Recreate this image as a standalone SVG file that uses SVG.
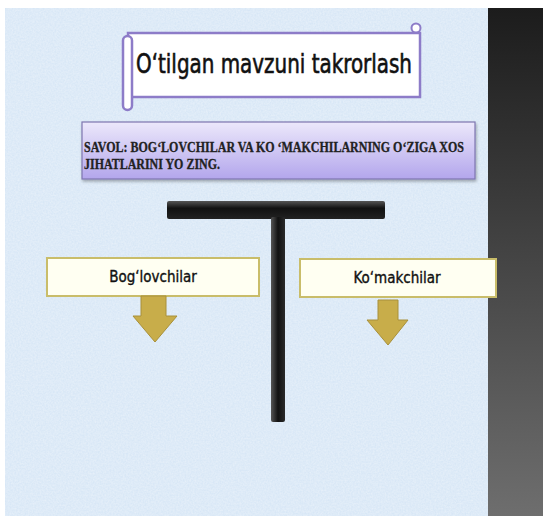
<svg xmlns="http://www.w3.org/2000/svg" width="543" height="516" viewBox="0 0 543 516">
<defs>
<linearGradient id="strip" x1="0" y1="0" x2="0" y2="1">
<stop offset="0" stop-color="#1c1c1c"/><stop offset="1" stop-color="#6e6e6e"/>
</linearGradient>
<linearGradient id="purple" x1="0" y1="0" x2="0" y2="1">
<stop offset="0" stop-color="#ece8fb"/><stop offset="1" stop-color="#b3a6ec"/>
</linearGradient>
<linearGradient id="barH" x1="0" y1="0" x2="0" y2="1">
<stop offset="0" stop-color="#555"/><stop offset="0.4" stop-color="#111"/><stop offset="1" stop-color="#222"/>
</linearGradient>
<linearGradient id="barV" x1="0" y1="0" x2="1" y2="0">
<stop offset="0" stop-color="#555"/><stop offset="0.5" stop-color="#111"/><stop offset="1" stop-color="#2a2a2a"/>
</linearGradient>
<filter id="tex" x="0" y="0" width="1" height="1">
<feTurbulence type="fractalNoise" baseFrequency="0.6" numOctaves="3" seed="3" result="n"/>
<feColorMatrix in="n" type="matrix" values="0 0 0 0 1  0 0 0 0 1  0 0 0 0 1  0 0 0 0.5 -0.1"/>
</filter>
<filter id="sh" x="-10%" y="-10%" width="120%" height="130%">
<feDropShadow dx="1" dy="2" stdDeviation="1.5" flood-color="#000" flood-opacity="0.3"/>
</filter>
</defs>
<style>
.lbl{fill:#fffff2;stroke:#c9bd6a;stroke-width:2}
.lt{font-family:"DejaVu Sans Condensed","DejaVu Sans",sans-serif;font-size:15px;fill:#111;stroke:#111;stroke-width:0.35;text-anchor:middle}
.arr{fill:#c8ad4a;stroke:#a8903a;stroke-width:1}
</style>
<rect width="543" height="516" fill="#ffffff"/>
<rect x="5" y="8" width="483" height="508" fill="#d8e7f6"/>
<rect x="5" y="8" width="483" height="508" filter="url(#tex)"/>
<rect x="488" y="8" width="55" height="508" fill="url(#strip)"/>

<g id="title">
<rect x="128" y="33" width="292" height="64" fill="#ffffff" stroke="#8d7cc8" stroke-width="2.5"/>
<rect x="123" y="36" width="9" height="74" rx="4.5" fill="#ffffff" stroke="#8d7cc8" stroke-width="2.5"/>
<circle cx="416" cy="28" r="4.5" fill="#ffffff" stroke="#8d7cc8" stroke-width="2"/>
<text x="274" y="73" font-family="'DejaVu Sans Condensed','DejaVu Sans',sans-serif" font-size="27" fill="#111" stroke="#111" stroke-width="0.6" text-anchor="middle" textLength="276" lengthAdjust="spacingAndGlyphs">O‘tilgan mavzuni takrorlash</text>
</g>

<g id="question">
<rect x="82" y="122" width="393" height="57" fill="url(#purple)" stroke="#7e76b0" stroke-width="1.2" filter="url(#sh)"/>
<text font-family="'Liberation Serif',serif" font-weight="bold" font-size="14" fill="#222" stroke="#222" stroke-width="0.3">
<tspan x="84" y="152" textLength="380" lengthAdjust="spacingAndGlyphs">SAVOL: BOG‘LOVCHILAR VA KO ‘MAKCHILARNING O‘ZIGA XOS</tspan>
<tspan x="84" y="169" textLength="136" lengthAdjust="spacingAndGlyphs">JIHATLARINI YO ZING.</tspan>
</text>
</g>

<g id="tbar">
<rect x="167" y="201" width="218" height="18" rx="2" fill="url(#barH)"/>
<rect x="271" y="217" width="14" height="205" rx="2" fill="url(#barV)"/>
</g>

<g id="left">
<rect class="lbl" x="47" y="258" width="212" height="38"/>
<text class="lt" x="153" y="282">Bog‘lovchilar</text>
</g>
<g id="right">
<rect class="lbl" x="300" y="259" width="196" height="38"/>
<text class="lt" x="397" y="283">Ko‘makchilar</text>
</g>

<g id="connectors">
<path class="arr" d="M141,296 H166 V316 H177 L155,342 L133,316 H141 Z"/>
<path class="arr" d="M378,300 H398 V320 H408 L388,345 L367,320 H378 Z"/>
</g>
</svg>
